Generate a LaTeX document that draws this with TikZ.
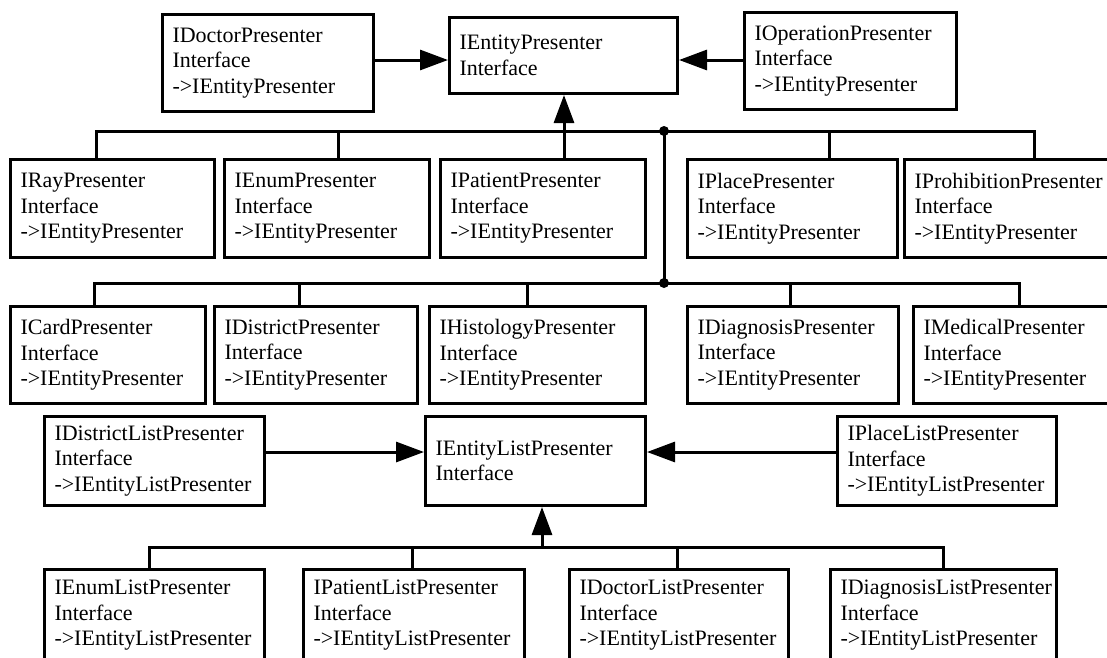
\documentclass[tikz,border=0pt]{standalone}
\usepackage{fontspec}
\setmainfont{Liberation Serif}
\usetikzlibrary{arrows.meta}
\hyphenpenalty=10000
\exhyphenpenalty=10000
\begin{document}
\begin{tikzpicture}[x=1pt,y=-1pt,
  cls/.style={draw, line width=3pt, anchor=north west, align=left,
    inner xsep=10pt, inner ysep=0pt,
    font=\fontsize{22}{25.5}\selectfont},
  wire/.style={line width=3pt, line join=miter},
  inherit/.style={line width=3pt, -{Triangle[length=28pt,width=20pt]}},
  joint/.style={circle, fill, inner sep=0pt, minimum size=10pt}]
\fill[white] (0,0) rectangle (1107,657);
\useasboundingbox (0,0) rectangle (1107,657);
\clip (0,0) rectangle (1107,657);

% top level: entity presenter and its two direct children
\node[cls, text width=191pt, minimum height=97pt] (doc) at (161,13) {IDoctorPresenter\\Interface\\->IEntityPresenter};
\node[cls, text width=208pt, minimum height=76pt] (ent) at (448,16) {IEntityPresenter\\Interface};
\node[cls, text width=192pt, minimum height=97pt] (op) at (743,11) {IOperationPresenter\\Interface\\->IEntityPresenter};

% first row of presenters
\node[cls, text width=184pt, minimum height=98pt] (ray) at (9,158) {IRayPresenter\\Interface\\->IEntityPresenter};
\node[cls, text width=185pt, minimum height=98pt] (enu) at (223,158) {IEnumPresenter\\Interface\\->IEntityPresenter};
\node[cls, text width=185pt, minimum height=98pt] (pat) at (439,158) {IPatientPresenter\\Interface\\->IEntityPresenter};
\node[cls, text width=190pt, minimum height=98pt] (pla) at (686,158) {IPlacePresenter\\Interface\\->IEntityPresenter};
\node[cls, text width=189pt, minimum height=98pt] (pro) at (903,158) {IProhibitionPresenter\\Interface\\->IEntityPresenter};

% second row of presenters
\node[cls, text width=175pt, minimum height=97pt] (card) at (9,305) {ICardPresenter\\Interface\\->IEntityPresenter};
\node[cls, text width=183pt, minimum height=97pt] (dis) at (213,305) {IDistrictPresenter\\Interface\\->IEntityPresenter};
\node[cls, text width=196pt, minimum height=97pt] (his) at (428,305) {IHistologyPresenter\\Interface\\->IEntityPresenter};
\node[cls, text width=191pt, minimum height=97pt] (dia) at (686,305) {IDiagnosisPresenter\\Interface\\->IEntityPresenter};
\node[cls, text width=180pt, minimum height=97pt] (med) at (912,305) {IMedicalPresenter\\Interface\\->IEntityPresenter};

% list presenters
\node[cls, text width=200pt, minimum height=89pt] (dlist) at (43,415) {IDistrictListPresenter\\Interface\\->IEntityListPresenter};
\node[cls, text width=200pt, minimum height=89pt] (elist) at (424,415) {IEntityListPresenter\\Interface};
\node[cls, text width=199pt, minimum height=89pt] (plist) at (836,415) {IPlaceListPresenter\\Interface\\->IEntityListPresenter};

\node[cls, text width=200pt, minimum height=92pt] (enl) at (43,568) {IEnumListPresenter\\Interface\\->IEntityListPresenter};
\node[cls, text width=201pt, minimum height=92pt] (patl) at (302,568) {IPatientListPresenter\\Interface\\->IEntityListPresenter};
\node[cls, text width=199pt, minimum height=92pt] (docl) at (568,568) {IDoctorListPresenter\\Interface\\->IEntityListPresenter};
\node[cls, text width=206pt, minimum height=92pt] (diagl) at (829,568) {IDiagnosisListPresenter\\Interface\\->IEntityListPresenter};

% routing points
\coordinate (r0) at (0,60);
\coordinate (r3) at (0,452);
\coordinate (b1w) at (96,131);
\coordinate (b1e) at (1034,131);
\coordinate (t1a) at (338,131);
\coordinate (t1b) at (829,131);
\coordinate (a1) at (564,131);
\coordinate (b2w) at (94,283);
\coordinate (b2e) at (1019,283);
\coordinate (t2a) at (299,283);
\coordinate (t2b) at (527,283);
\coordinate (t2c) at (790,283);
\coordinate (b3w) at (149,547);
\coordinate (b3e) at (943,547);
\coordinate (t3a) at (412,547);
\coordinate (t3b) at (677,547);
\coordinate (a3) at (542,547);
\node[joint] (j1) at (664,131) {};
\node[joint] (j2) at (664,283) {};

% side arrows into the base interfaces
\draw[inherit] (doc.east |- r0) -- (ent.west |- r0);
\draw[inherit] (op.west |- r0) -- (ent.east |- r0);
\draw[inherit] (dlist.east |- r3) -- (elist.west |- r3);
\draw[inherit] (plist.west |- r3) -- (elist.east |- r3);

% first bus
\draw[wire] (b1w |- ray.north) -- (b1w) -- (b1e) -- (b1e |- pro.north);
\draw[wire] (t1a |- enu.north) -- (t1a);
\draw[wire] (t1b |- pla.north) -- (t1b);
\draw[inherit] (a1 |- pat.north) -- (a1 |- ent.south);

% second bus, joined to the first
\draw[wire] (j1.center) -- (j2.center);
\draw[wire] (b2w |- card.north) -- (b2w) -- (b2e) -- (b2e |- med.north);
\draw[wire] (t2a |- dis.north) -- (t2a);
\draw[wire] (t2b |- his.north) -- (t2b);
\draw[wire] (t2c |- dia.north) -- (t2c);

% list bus
\draw[wire] (b3w |- enl.north) -- (b3w) -- (b3e) -- (b3e |- diagl.north);
\draw[wire] (t3a |- patl.north) -- (t3a);
\draw[wire] (t3b |- docl.north) -- (t3b);
\draw[inherit] (a3) -- (a3 |- elist.south);
\end{tikzpicture}
\end{document}
